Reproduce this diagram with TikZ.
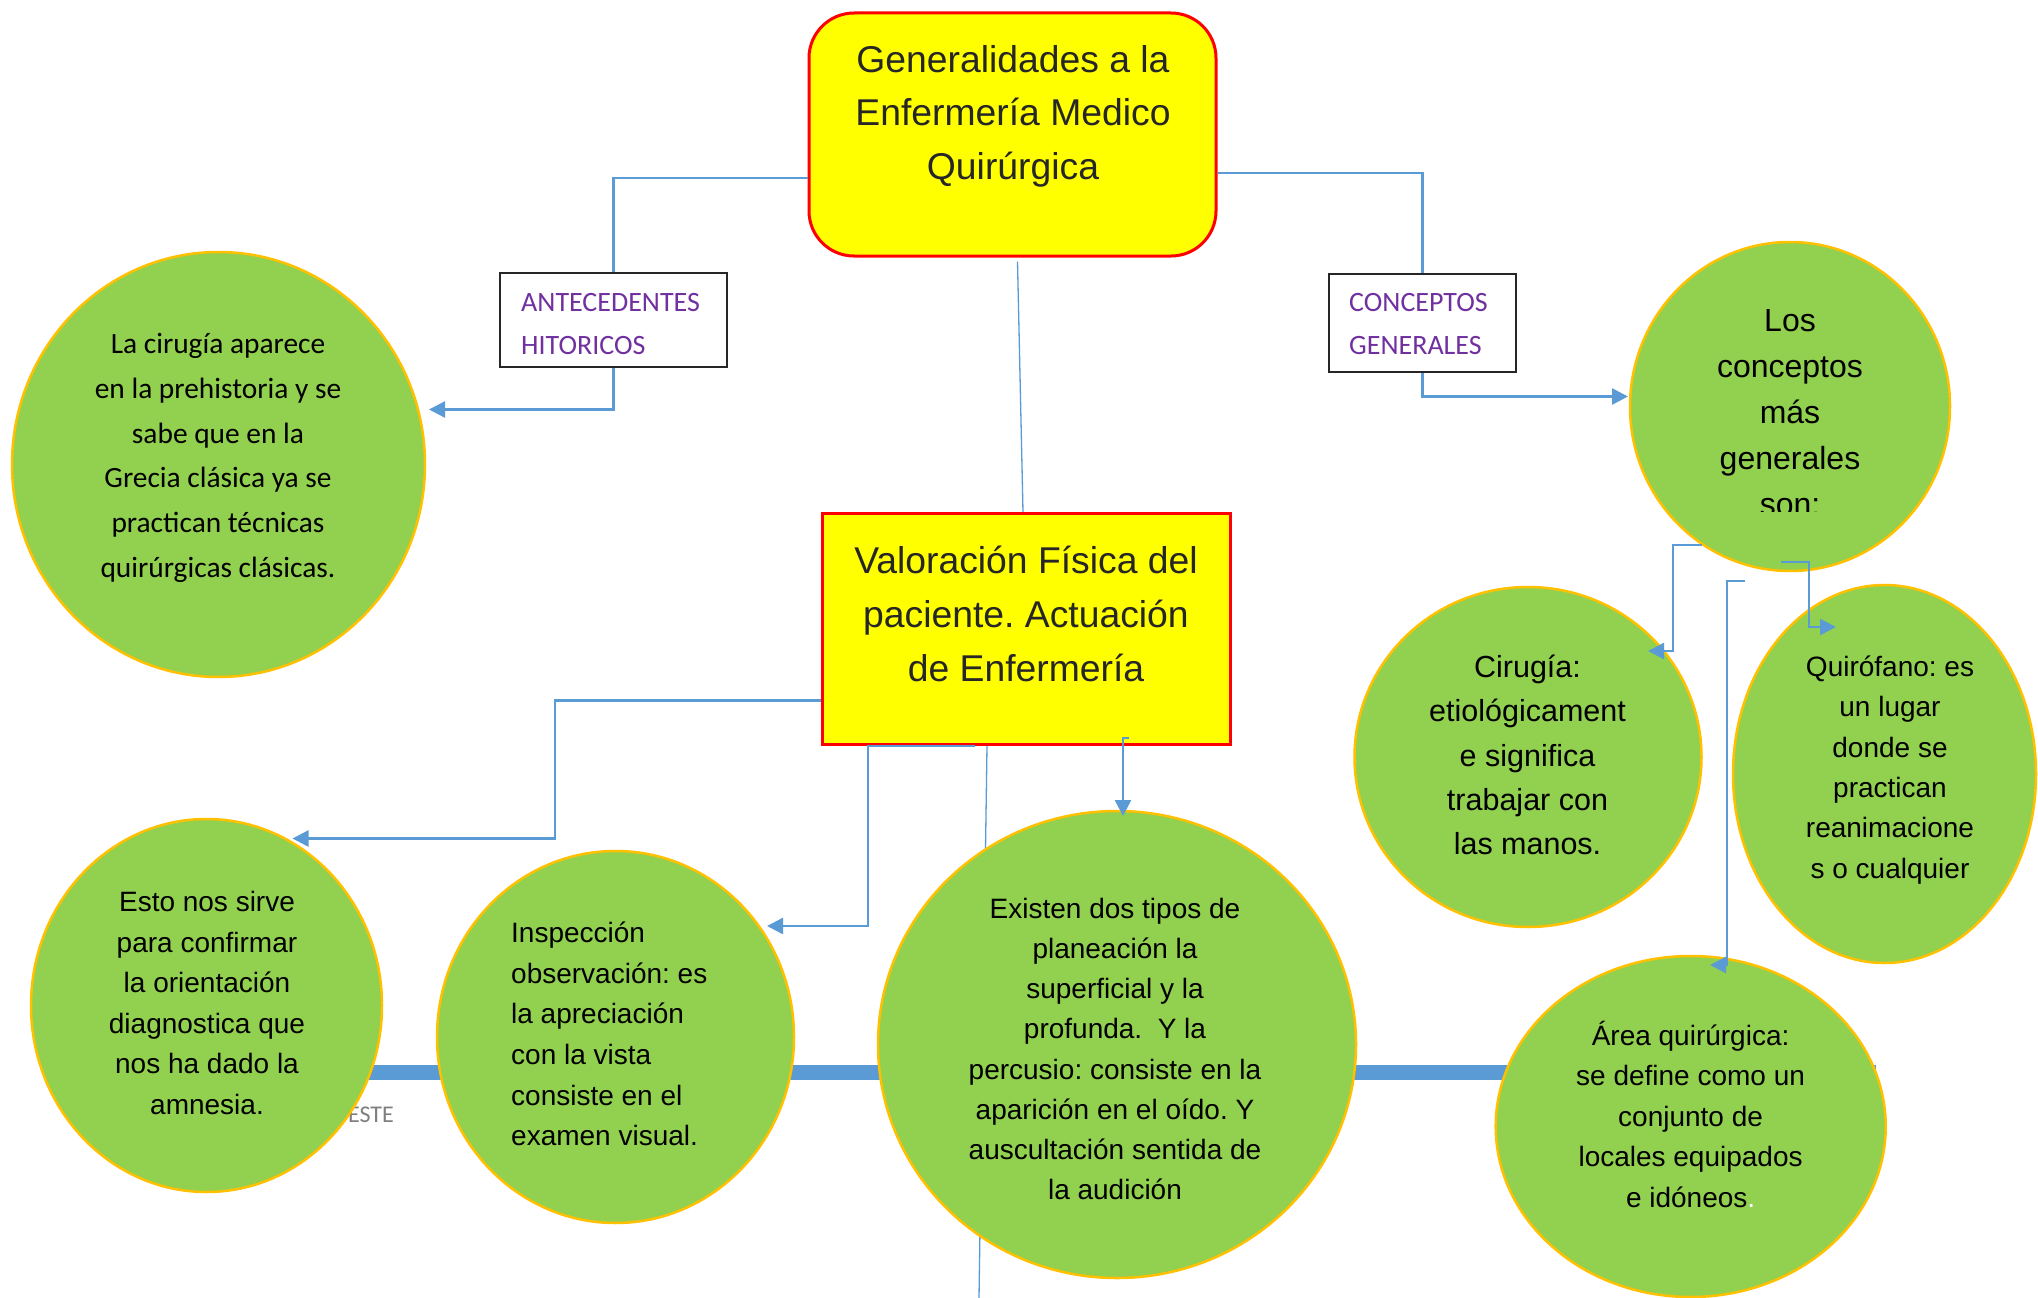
\documentclass[tikz,border=0pt]{standalone}
\usepackage{fontspec}
\setmainfont{Liberation Sans}
\newfontfamily\calib{Carlito}
\usetikzlibrary{shapes.geometric,arrows.meta,calc}
\definecolor{cyel}{HTML}{FFFF00}
\definecolor{cred}{HTML}{FF0000}
\definecolor{cgreen}{HTML}{92D050}
\definecolor{cgold}{HTML}{FFC000}
\definecolor{cblue}{HTML}{5B9BD5}
\definecolor{cpurple}{HTML}{7030A0}
\definecolor{cdark}{HTML}{262626}
\definecolor{cgray}{HTML}{7F7F7F}
\newcommand{\fsz}[2]{\fontsize{#1}{#2}\selectfont}
\frenchspacing
\begin{document}
\begin{tikzpicture}[x=1pt,y=-1pt,
  mainbox/.style={draw=cred, fill=cyel, line width=3pt, inner sep=0},
  lblbox/.style={draw=black!85, line width=1.5pt, fill=white, inner sep=0},
  bubble/.style={ellipse, draw=cgold, fill=cgreen, line width=2.5pt, inner sep=0},
  conn/.style={draw=cblue, line width=2.5pt},
  arr/.style={-{Triangle[length=16pt,width=16pt]}},
  thinl/.style={draw=cblue, line width=1.3pt},
  txt/.style={inner sep=0, align=center},
  lbltxt/.style={inner sep=0, align=left, anchor=west, text=cpurple, font=\calib\fsz{28}{42.5}}
]
\fill[white] (0,0) rectangle (2038,1298);
\useasboundingbox (0,0) rectangle (2038,1298);

% background elements
\coordinate (bar1) at (300,1072.5);
\coordinate (bar2) at (1876,1072.5);
\draw[cblue, line width=15pt] (bar1) -- (bar2);
\node[inner sep=0, anchor=east, text=cgray, font=\calib\fsz{24}{28}] (este) at (394,1115) {ESTE};

% main boxes
\node[mainbox, rounded corners=45pt, minimum width=407, minimum height=243] (gen) at (1012.5,134.5) {};
\node[mainbox, minimum width=408, minimum height=231] (val) at (1026,629) {};
\node[lblbox, minimum width=227, minimum height=94] (ant) at (613.5,320) {};
\node[lblbox, minimum width=187, minimum height=98] (con) at (1422.5,323) {};

% thin line behind middle circle
\coordinate (b1) at (979,1298);
\draw[thinl] ($(val.south)+(-39,0)$) -- (b1);

% bubbles
\node[bubble, minimum width=413, minimum height=425] (c1) at (218.5,464.5) {};
\node[bubble, minimum width=320, minimum height=329] (c2) at (1790,406.5) {};
\node[bubble, minimum width=351, minimum height=373] (c3) at (206.5,1005.5) {};
\node[bubble, minimum width=357, minimum height=372] (c4) at (615.5,1037) {};
\node[bubble, minimum width=478, minimum height=467] (c5) at (1117,1044.5) {};
\node[bubble, minimum width=347, minimum height=340] (c6) at (1528,757) {};
\node[bubble, minimum width=303, minimum height=378] (c7) at (1884.5,774) {};
\node[bubble, minimum width=390, minimum height=341] (c8) at (1690.7,1126.5) {};

% connectors
\coordinate (a1) at (429,409.5);
\coordinate (a2) at (1628,396.5);
\coordinate (a3) at (292.5,838.5);
\coordinate (a4) at (767,926);
\coordinate (a5) at (1123,816);
\coordinate (a6) at (1648,651);
\coordinate (a7) at (1836,627);
\coordinate (a8) at (1710,965);

\draw[conn] ($(gen.west)+(0,43.5)$) -| (ant.north);
\draw[conn,arr] (ant.south) |- (a1);
\draw[conn] ($(gen.east)+(0,38.5)$) -| (con.north);
\draw[conn,arr] (con.south) |- (a2);
\draw[thinl] ($(gen.south)+(5,4)$) -- ($(val.north)+(-3,0)$);
\draw[conn,arr] ($(val.west)+(0,71.5)$) -| ($(a3)+(262.5,0)$) -- (a3);
\draw[conn,arr] ($(val.south)+(-51,0)$) -- ($(val.south)+(-158,0)$) |- (a4);
\draw[conn,arr] ($(val.south)+(103,-8)$) -- ($(val.south)+(97,-8)$) -- (a5);
\draw[conn,arr] ($(c2.center)+(-88,138.5)$) -- ($(c2.center)+(-117,138.5)$) |- (a6);
\draw[conn,arr] ($(c2.center)+(-9,155.5)$) -- ($(c2.center)+(19,155.5)$) |- (a7);
\draw[conn,arr] ($(c2.center)+(-45,174.5)$) -- ($(c2.center)+(-63,174.5)$) |- (a8);

% texts
\node[txt, text=cdark, font=\fsz{37.3}{53.5}] (gent) at (1013,116) {Generalidades a la\\Enfermería Medico\\Quirúrgica};
\node[txt, text=cdark, font=\fsz{37.3}{54}] (valt) at (1026,614) {Valoración Física del\\paciente. Actuación\\de Enfermería};
\node[lbltxt] (antt) at (521,324) {ANTECEDENTES\\HITORICOS};
\node[lbltxt] (cont) at (1349,324) {CONCEPTOS\\GENERALES};

\node[txt, font=\calib\fsz{29.4}{44.7}] (c1t) at (218,458) {La cirugía aparece\\en la prehistoria y se\\sabe que en la\\Grecia clásica ya se\\practican técnicas\\quirúrgicas clásicas.};
\begin{scope}
\clip (1620,240) rectangle (1960,511);
\node[txt, font=\fsz{32}{46}] (c2t) at (1790,413) {Los\\conceptos\\más\\generales\\son:};
\end{scope}
\node[txt, font=\fsz{28}{40.5}] (c3t) at (207,1003) {Esto nos sirve\\para confirmar\\la orientación\\diagnostica que\\nos ha dado la\\amnesia.};
\node[inner sep=0, align=left, anchor=west, font=\fsz{28}{40.6}] (c4t) at (511,1034) {Inspección\\observación: es\\la apreciación\\con la vista\\consiste en el\\examen visual.};
\node[txt, font=\fsz{28}{40.2}] (c5t) at (1115,1049) {Existen dos tipos de\\planeación la\\superficial y la\\profunda.\ \ Y la\\percusio: consiste en la\\aparición en el oído. Y\\auscultación sentida de\\la audición};
\node[txt, font=\fsz{30.5}{44.2}] (c6t) at (1527.5,755) {Cirugía:\\etiológicament\\e significa\\trabajar con\\las manos.};
\node[txt, font=\fsz{28}{40.3}] (c7t) at (1890,770) {Quirófano: es\\un lugar\\donde se\\practican\\reanimacione\\s o cualquier};
\node[txt, font=\fsz{28}{40.5}] (c8t) at (1690.6,1114) {Área quirúrgica:\\se define como un\\conjunto de\\locales equipados\\e idóneos{\color{white}.}};
\end{tikzpicture}
\end{document}
